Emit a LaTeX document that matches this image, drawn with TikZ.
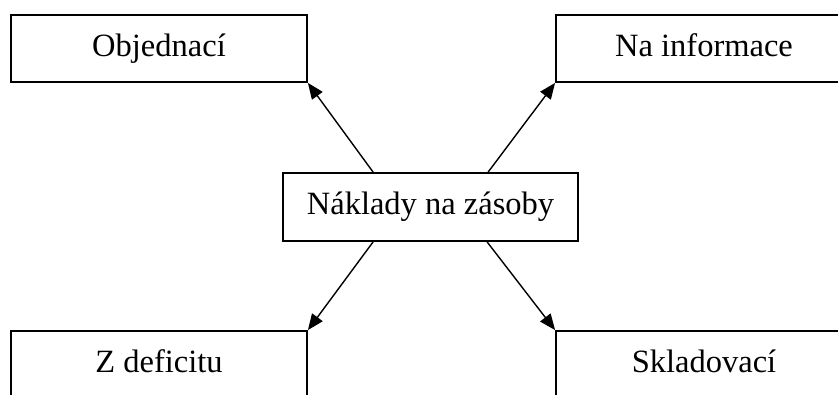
\documentclass[tikz,border=0pt]{standalone}
\usepackage{fontspec}
\setmainfont{Liberation Serif}
\usetikzlibrary{arrows.meta}
\begin{document}
\begin{tikzpicture}[x=1pt,y=-1pt,
  costbox/.style={draw, line width=1.8pt, rectangle, inner sep=0pt,
    minimum width=296pt, minimum height=67pt,
    text height=20pt, text depth=5pt,
    font=\fontsize{32.5}{38}\selectfont},
  link/.style={line width=1.4pt, -{Triangle[length=16pt,width=13pt]}}]
  \useasboundingbox (0,0) rectangle (838,394);
  \clip (0,0) rectangle (838,394);
  % central cost category
  \node[costbox, minimum width=295pt, minimum height=68pt] (c) at (430.5,207) {Náklady na zásoby};
  % four kinds of inventory cost
  \node[costbox] (tl) at (159,48.5) {Objednací};
  \node[costbox] (tr) at (704,48.5) {Na informace};
  \node[costbox] (bl) at (159,364.5) {Z deficitu};
  \node[costbox] (br) at (704,364.5) {Skladovací};
  % arrows from the centre to the box corners
  \draw[link] ([xshift=91pt]c.north west) -- (tl.south east);
  \draw[link] ([xshift=206pt]c.north west) -- (tr.south west);
  \draw[link] ([xshift=91pt]c.south west) -- (bl.north east);
  \draw[link] ([xshift=205pt]c.south west) -- (br.north west);
\end{tikzpicture}
\end{document}
